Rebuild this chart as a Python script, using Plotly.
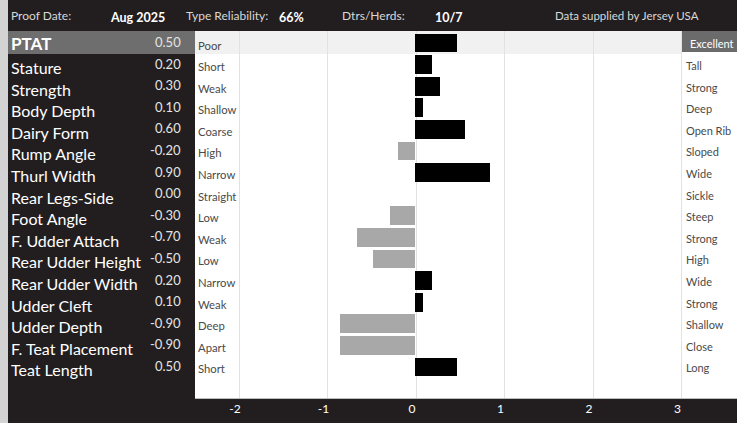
import plotly.graph_objects as go

# ---------------- data ----------------
traits = ["PTAT", "Stature", "Strength", "Body Depth", "Dairy Form", "Rump Angle",
          "Thurl Width", "Rear Legs-Side", "Foot Angle", "F. Udder Attach",
          "Rear Udder Height", "Rear Udder Width", "Udder Cleft", "Udder Depth",
          "F. Teat Placement", "Teat Length"]
values = [0.50, 0.20, 0.30, 0.10, 0.60, -0.20, 0.90, 0.00, -0.30, -0.70,
          -0.50, 0.20, 0.10, -0.90, -0.90, 0.50]
low_labels = ["Poor", "Short", "Weak", "Shallow", "Coarse", "High", "Narrow",
              "Straight", "Low", "Weak", "Low", "Narrow", "Weak", "Deep", "Apart", "Short"]
high_labels = ["Excellent", "Tall", "Strong", "Deep", "Open Rib", "Sloped", "Wide",
               "Sickle", "Steep", "Strong", "High", "Wide", "Strong", "Shallow", "Close", "Long"]
x_ticks = [-2, -1, 0, 1, 2, 3]
header = {"Proof Date:": "Aug 2025", "Type Reliability:": "66%", "Dtrs/Herds:": "10/7"}
source_note = "Data supplied by Jersey USA"

# ---------------- layout helpers ----------------
W, H = 737, 423
L, R, T, B = 195, 0, 31, 25
PW, PH = W - L - R, H - T - B
DARK = "#221e1f"
FONT = "Lato"


def px(x):
    return (x - L) / PW


def py(y):
    return (H - B - y) / PH


bar_colors = ["#000000" if v >= 0 else "#a8a8a8" for v in values]

fig = go.Figure()
fig.add_trace(go.Bar(
    x=values, y=traits, orientation="h", width=0.87,
    marker=dict(color=bar_colors, line=dict(width=0)),
    showlegend=False, hoverinfo="x+y",
))
# empty trace registering the grid / tick-label axis
fig.add_trace(go.Scatter(x=[], y=[], xaxis="x2", yaxis="y", showlegend=False, hoverinfo="skip"))

shapes = [
    # left light strip
    dict(type="rect", xref="paper", yref="paper", x0=px(0), x1=px(8), y0=py(H), y1=py(0),
         fillcolor="#d3d3d3", line=dict(width=0), layer="below"),
    # PTAT band left (dark gray)
    dict(type="rect", xref="paper", yref="paper", x0=px(8), x1=px(195), y0=py(54), y1=py(31),
         fillcolor="#6e6e6e", line=dict(width=0), layer="below"),
    # PTAT band in plot (light gray)
    dict(type="rect", xref="paper", yref="paper", x0=px(195), x1=px(682), y0=py(54), y1=py(31),
         fillcolor="#f1f1f1", line=dict(width=0), layer="below"),
    # cover left label column (hides -2 gridline)
    dict(type="rect", xref="paper", yref="paper", x0=px(195), x1=px(242), y0=py(398), y1=py(54),
         fillcolor="#ffffff", line=dict(width=0), layer="between"),
    dict(type="rect", xref="paper", yref="paper", x0=px(195), x1=px(242), y0=py(54), y1=py(31),
         fillcolor="#f1f1f1", line=dict(width=0), layer="between"),
    # Excellent box
    dict(type="rect", xref="paper", yref="paper", x0=px(682), x1=px(737), y0=py(52), y1=py(31),
         fillcolor="#6b6b6b", line=dict(width=0), layer="above"),
]

ann = []
# header
hdr_pos = [(9, 108), (184, 277), (340, 433)]
for (lab, val), (x1, x2) in zip(header.items(), hdr_pos):
    ann.append(dict(text=lab, x=px(x1), y=py(16), xref="paper", yref="paper",
                    xanchor="left", yanchor="middle", showarrow=False,
                    font=dict(family=FONT, size=12, color="#d8d8d8")))
    ann.append(dict(text="<b>" + val + "</b>", x=px(x2), y=py(17), xref="paper", yref="paper",
                    xanchor="left", yanchor="middle", showarrow=False,
                    font=dict(family=FONT, size=12.5, color="#ffffff")))
ann.append(dict(text=source_note, x=px(553), y=py(16), xref="paper", yref="paper",
                xanchor="left", yanchor="middle", showarrow=False,
                font=dict(family=FONT, size=11.5, color="#d8d8d8")))

for i, (t, v, lo, hi) in enumerate(zip(traits, values, low_labels, high_labels)):
    if i == 0:
        ann.append(dict(text="<b>" + t + "</b>", x=px(9), y=t, xref="paper", yref="y",
                        xanchor="left", yanchor="middle", showarrow=False,
                        font=dict(family=FONT, size=17, color="#ffffff")))
    else:
        ann.append(dict(text=t, x=px(9), y=t, xref="paper", yref="y", yshift=-3,
                        xanchor="left", yanchor="middle", showarrow=False,
                        font=dict(family=FONT, size=16, color="#ffffff")))
    ann.append(dict(text=f"{v:.2f}", x=px(183), y=t, xref="paper", yref="y", yshift=1,
                    xanchor="right", yanchor="middle", showarrow=False,
                    font=dict(family=FONT, size=13, color="#e4e4e4")))
    ann.append(dict(text=lo, x=px(196), y=t, xref="paper", yref="y", yshift=-2,
                    xanchor="left", yanchor="middle", showarrow=False,
                    font=dict(family=FONT, size=11.3, color="#4a4a4a")))
    if i == 0:
        ann.append(dict(text=hi, x=px(736), y=t, xref="paper", yref="y",
                        xanchor="right", yanchor="middle", showarrow=False,
                        font=dict(family=FONT, size=11, color="#ffffff")))
    else:
        ann.append(dict(text=hi, x=px(684), y=t, xref="paper", yref="y", yshift=-1,
                        xanchor="left", yanchor="middle", showarrow=False,
                        font=dict(family=FONT, size=11, color="#4a4a4a")))

fig.update_layout(
    width=W, height=H,
    margin=dict(l=L, r=R, t=T, b=B, pad=0),
    paper_bgcolor=DARK, plot_bgcolor="#ffffff",
    font=dict(family=FONT),
    bargap=0,
    xaxis=dict(range=[(195 - 415) / 83.3, (737 - 415) / 83.3], showgrid=False,
               zeroline=False, showticklabels=False, showline=False, fixedrange=True),
    xaxis2=dict(range=[(195 - 416) / 88.5, (737 - 416) / 88.5], overlaying="x", side="bottom",
                anchor="y", tickvals=x_ticks, ticktext=[str(v) for v in x_ticks],
                showgrid=True, gridcolor="#e2e2e2", gridwidth=1, zeroline=False,
                showline=True, linecolor="#bdbdbd", linewidth=1,
                tickfont=dict(family=FONT, size=12, color="#ffffff"),
                ticklabelshift=-4, ticks="", fixedrange=True),
    yaxis=dict(type="category", categoryarray=traits, range=[16.44, -0.556],
               showgrid=False, zeroline=False, showticklabels=False, showline=False,
               fixedrange=True),
    shapes=shapes, annotations=ann, showlegend=False,
)

fig.write_html("out.html", config={"displayModeBar": False},
               post_script="document.body.style.margin='0';document.body.style.overflow='hidden';")
